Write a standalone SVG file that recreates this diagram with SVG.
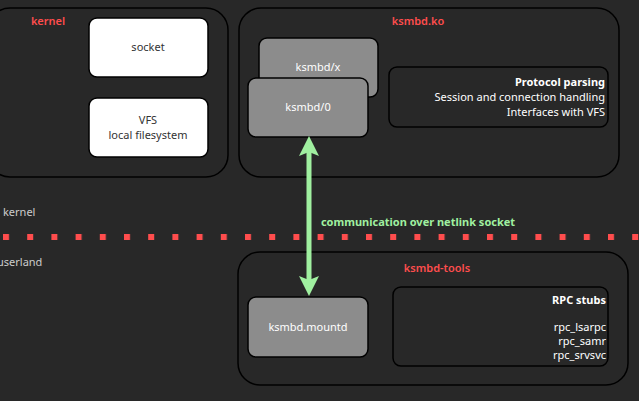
<svg xmlns="http://www.w3.org/2000/svg" width="639" height="401" viewBox="0 0 639 401">
<defs>
<style>
text{font-family:"Noto Sans","DejaVu Sans",sans-serif;font-size:11px}
.grp{fill:#282828;stroke:#000;stroke-width:1.5}
.w{fill:#fff;stroke:#000;stroke-width:1.5}
.g{fill:#8c8c8c;stroke:#000;stroke-width:1.5}
.t{fill:#ff4d4d;text-anchor:middle;font-weight:600}
.lt{fill:#fff}
.dk{fill:#333;text-anchor:middle}
.mid{text-anchor:middle}
.end{text-anchor:end}
</style>
<marker id="ah" viewBox="0 0 10 10" refX="5" refY="5" markerWidth="4" markerHeight="4" orient="auto-start-reverse"><path d="M0,0 L10,5 L0,10 L2,5 z" fill="#a0f0a0"/></marker>
<pattern id="dots" x="3" y="0" width="24.2" height="401" patternUnits="userSpaceOnUse"><rect x="0" y="234" width="6" height="6" fill="#ff4d4d"/></pattern>
</defs>
<rect width="639" height="401" fill="#282828"/>
<rect x="0" y="234" width="639" height="6" fill="url(#dots)"/>
<text x="3" y="216" fill="#ccc" font-size="10">kernel</text>
<text x="-3" y="266" fill="#ccc" font-size="10">userland</text>
<g id="kernel"><rect class="grp" x="-12" y="8" width="240" height="169" rx="22"/><text class="t" x="48" y="25">kernel</text></g>
<g id="socket"><rect class="w" x="89" y="18" width="119" height="59" rx="8"/><text class="dk" x="148" y="51">socket</text></g>
<g id="vfs"><rect class="w" x="89" y="98" width="119" height="59" rx="8"/><text class="dk" x="148" y="124">VFS</text><text class="dk" x="148" y="139">local filesystem</text></g>
<g id="ksmbd-ko"><rect class="grp" x="239" y="8" width="380" height="169" rx="22"/><text class="t" x="418" y="25">ksmbd.ko</text></g>
<g id="ksmbd-x"><rect class="g" x="259" y="38" width="119" height="59" rx="8"/><text class="lt mid" x="318" y="71">ksmbd/x</text></g>
<g id="ksmbd-0"><rect class="g" x="248" y="78" width="120" height="59" rx="8"/><text class="lt mid" x="308" y="111">ksmbd/0</text></g>
<g id="protocol"><rect class="grp" x="389" y="67" width="219" height="60" rx="8"/><text class="lt end" x="605" y="86" font-weight="bold">Protocol parsing</text><text class="lt end" x="605" y="101">Session and connection handling</text><text class="lt end" x="605" y="116">Interfaces with VFS</text></g>
<g id="ksmbd-tools"><rect class="grp" x="238" y="252" width="390" height="133" rx="22"/><text class="t" x="437" y="272">ksmbd-tools</text></g>
<g id="mountd"><rect class="g" x="248" y="297" width="120" height="60" rx="8"/><text class="lt mid" x="308" y="331">ksmbd.mountd</text></g>
<g id="rpc"><rect class="grp" x="393" y="287" width="215" height="79" rx="8"/><text class="lt end" x="606" y="304" font-weight="bold">RPC stubs</text><text class="lt end" x="606" y="331">rpc_lsarpc</text><text class="lt end" x="606" y="345">rpc_samr</text><text class="lt end" x="606" y="359">rpc_srvsvc</text></g>
<g id="connectors"><line x1="309" y1="146" x2="309" y2="286" stroke="#a0f0a0" stroke-width="5" marker-start="url(#ah)" marker-end="url(#ah)"/><text x="418" y="226" class="mid" fill="#a0f0a0" font-weight="bold" font-size="10.5">communication over netlink socket</text></g>
</svg>
